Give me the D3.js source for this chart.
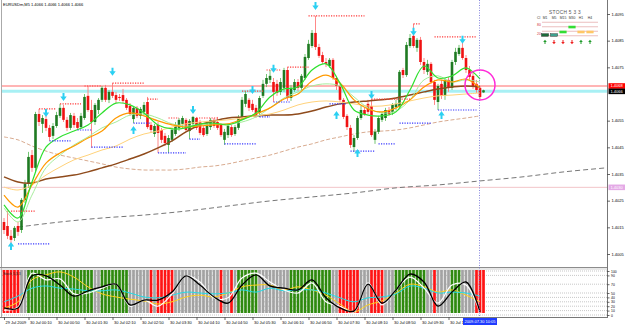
<!DOCTYPE html>
<html>
<head>
<meta charset="utf-8">
<script src="https://cdn.jsdelivr.net/npm/d3@7"></script>
<style>
  html, body { margin: 0; padding: 0; background: #fff; }
  svg { display: block; font-family: "Liberation Sans", Arial, sans-serif; }
</style>
</head>
<body>
<svg id="chart" width="625" height="327"></svg>
<script>
// ---------------- data ----------------
const symbolTitle = 'EURUSDm,M5  1.4066 1.4066 1.4066 1.4066'

const open = [1.40170,1.40155,1.40118,1.40110,1.40155,1.40140,1.40253,1.40313,1.40421,1.40373,
  1.40575,1.40538,1.40556,1.40523,1.40493,1.40530,1.40568,1.40598,1.40553,1.40523,
  1.40568,1.40545,1.40526,1.40560,1.40643,1.40590,1.40545,1.40590,1.40628,1.40673,
  1.40628,1.40658,1.40646,1.40639,1.40646,1.40628,1.40605,1.40556,1.40598,1.40568,
  1.40583,1.40620,1.40534,1.40500,1.40534,1.40515,1.40493,1.40459,1.40478,1.40500,
  1.40523,1.40538,1.40553,1.40511,1.40538,1.40560,1.40545,1.40523,1.40500,1.40526,
  1.40553,1.40545,1.40534,1.40478,1.40496,1.40526,1.40500,1.40523,1.40564,1.40613,
  1.40628,1.40613,1.40598,1.40579,1.40643,1.40688,1.40703,1.40695,1.40688,1.40658,
  1.40673,1.40740,1.40635,1.40665,1.40695,1.40673,1.40710,1.40785,1.40830,1.40879,
  1.40826,1.40796,1.40770,1.40755,1.40778,1.40710,1.40680,1.40628,1.40568,1.40523,
  1.40451,1.40485,1.40560,1.40590,1.40613,1.40605,1.40478,1.40508,1.40553,1.40560,
  1.40590,1.40583,1.40601,1.40605,1.40740,1.40721,1.40830,1.40868,1.40823,1.40853,
  1.40770,1.40733,1.40763,1.40695,1.40620,1.40688,1.40643,1.40703,1.40673,1.40770,
  1.40800,1.40823,1.40785,1.40740,1.40718,1.40688,1.40673,1.40656]

const close = [1.40140,1.40118,1.40103,1.40148,1.40133,1.40253,1.40313,1.40414,1.40373,1.40575,
  1.40545,1.40560,1.40523,1.40489,1.40530,1.40571,1.40598,1.40553,1.40523,1.40571,
  1.40534,1.40523,1.40568,1.40639,1.40590,1.40545,1.40609,1.40628,1.40673,1.40628,
  1.40658,1.40643,1.40628,1.40635,1.40624,1.40598,1.40575,1.40598,1.40568,1.40594,
  1.40609,1.40526,1.40515,1.40530,1.40504,1.40478,1.40466,1.40485,1.40515,1.40534,
  1.40553,1.40560,1.40515,1.40549,1.40564,1.40523,1.40504,1.40496,1.40538,1.40553,
  1.40530,1.40523,1.40496,1.40508,1.40530,1.40496,1.40526,1.40560,1.40628,1.40650,
  1.40598,1.40590,1.40571,1.40635,1.40688,1.40710,1.40718,1.40658,1.40654,1.40695,
  1.40740,1.40635,1.40673,1.40695,1.40673,1.40718,1.40789,1.40838,1.40879,1.40826,
  1.40793,1.40770,1.40763,1.40778,1.40710,1.40680,1.40628,1.40564,1.40526,1.40459,
  1.40485,1.40560,1.40590,1.40575,1.40583,1.40496,1.40508,1.40560,1.40575,1.40590,
  1.40575,1.40609,1.40613,1.40733,1.40721,1.40834,1.40860,1.40830,1.40853,1.40770,
  1.40740,1.40763,1.40695,1.40628,1.40680,1.40643,1.40703,1.40673,1.40770,1.40808,
  1.40823,1.40785,1.40740,1.40714,1.40680,1.40665,1.40639,1.40664]

const high = [1.40185,1.40211,1.40140,1.40155,1.40170,1.40260,1.40328,1.40433,1.40440,1.40583,
  1.40594,1.40571,1.40568,1.40534,1.40541,1.40583,1.40613,1.40609,1.40564,1.40579,
  1.40579,1.40560,1.40579,1.40650,1.40680,1.40628,1.40616,1.40635,1.40680,1.40684,
  1.40665,1.40691,1.40658,1.40650,1.40669,1.40635,1.40616,1.40605,1.40605,1.40601,
  1.40620,1.40639,1.40545,1.40538,1.40545,1.40523,1.40504,1.40496,1.40523,1.40545,
  1.40560,1.40568,1.40560,1.40556,1.40568,1.40564,1.40553,1.40530,1.40549,1.40560,
  1.40560,1.40564,1.40541,1.40519,1.40538,1.40534,1.40534,1.40571,1.40639,1.40661,
  1.40635,1.40628,1.40609,1.40643,1.40703,1.40725,1.40740,1.40710,1.40703,1.40710,
  1.40748,1.40751,1.40684,1.40706,1.40706,1.40725,1.40800,1.40853,1.40890,1.40943,
  1.40838,1.40808,1.40785,1.40785,1.40785,1.40718,1.40688,1.40635,1.40575,1.40534,
  1.40496,1.40568,1.40605,1.40601,1.40628,1.40631,1.40519,1.40568,1.40583,1.40598,
  1.40601,1.40616,1.40628,1.40740,1.40748,1.40845,1.40875,1.40913,1.40860,1.40864,
  1.40785,1.40778,1.40770,1.40703,1.40688,1.40703,1.40710,1.40714,1.40778,1.40823,
  1.40834,1.40853,1.40796,1.40755,1.40729,1.40703,1.40680,1.40666]

const low = [1.40125,1.40106,1.40088,1.40099,1.40118,1.40129,1.40241,1.40298,1.40358,1.40358,
  1.40530,1.40504,1.40511,1.40474,1.40481,1.40523,1.40560,1.40545,1.40511,1.40515,
  1.40523,1.40515,1.40519,1.40553,1.40583,1.40448,1.40534,1.40575,1.40620,1.40620,
  1.40616,1.40635,1.40616,1.40624,1.40616,1.40590,1.40568,1.40541,1.40560,1.40556,
  1.40571,1.40519,1.40504,1.40489,1.40429,1.40466,1.40455,1.40429,1.40470,1.40493,
  1.40511,1.40523,1.40508,1.40481,1.40526,1.40515,1.40496,1.40489,1.40493,1.40515,
  1.40523,1.40515,1.40489,1.40459,1.40485,1.40489,1.40493,1.40515,1.40556,1.40601,
  1.40586,1.40583,1.40560,1.40564,1.40635,1.40676,1.40691,1.40620,1.40643,1.40646,
  1.40658,1.40624,1.40624,1.40658,1.40661,1.40665,1.40703,1.40778,1.40823,1.40815,
  1.40785,1.40763,1.40751,1.40748,1.40703,1.40665,1.40620,1.40556,1.40515,1.40448,
  1.40433,1.40478,1.40553,1.40568,1.40575,1.40489,1.40463,1.40500,1.40545,1.40549,
  1.40568,1.40571,1.40590,1.40598,1.40710,1.40714,1.40823,1.40823,1.40808,1.40759,
  1.40725,1.40721,1.40688,1.40609,1.40590,1.40631,1.40628,1.40658,1.40665,1.40759,
  1.40793,1.40778,1.40729,1.40703,1.40669,1.40654,1.40631,1.40654]

// moving averages, read every 4th bar (bars 0, 4, ... 136)
const maStep = 4
const maFast = [1.40234,1.40185,1.40320,1.40451,1.40489,1.40511,1.40534,1.40579,1.40616,1.40609,
  1.40579,1.40534,1.40519,1.40523,1.40538,1.40541,1.40534,1.40553,1.40579,1.40639,
  1.40669,1.40676,1.40740,1.40763,1.40691,1.40590,1.40571,1.40568,1.40583,1.40665,
  1.40755,1.40710,1.40718,1.40748,1.40706]
const maLight = [1.40223,1.40170,1.40271,1.40373,1.40421,1.40459,1.40489,1.40523,1.40545,1.40571,
  1.40575,1.40560,1.40538,1.40530,1.40534,1.40538,1.40538,1.40545,1.40564,1.40598,
  1.40635,1.40658,1.40680,1.40688,1.40680,1.40639,1.40598,1.40579,1.40586,1.40628,
  1.40703,1.40718,1.40695,1.40703,1.40695]
const maOrange = [1.40271,1.40226,1.40309,1.40391,1.40429,1.40455,1.40485,1.40511,1.40560,1.40579,
  1.40568,1.40549,1.40534,1.40526,1.40530,1.40534,1.40538,1.40556,1.40575,1.40598,
  1.40631,1.40650,1.40699,1.40721,1.40691,1.40628,1.40594,1.40583,1.40598,1.40628,
  1.40676,1.40703,1.40695,1.40706,1.40673]
const maPeach = [1.40301,1.40290,1.40309,1.40346,1.40376,1.40403,1.40421,1.40440,1.40455,1.40481,
  1.40500,1.40511,1.40526,1.40538,1.40545,1.40549,1.40553,1.40560,1.40568,1.40575,
  1.40590,1.40609,1.40620,1.40624,1.40620,1.40613,1.40605,1.40605,1.40613,1.40624,
  1.40635,1.40643,1.40646,1.40650,1.40654]
const maBrown = [1.40339,1.40320,1.40316,1.40331,1.40339,1.40346,1.40358,1.40373,1.40388,1.40406,
  1.40425,1.40448,1.40474,1.40508,1.40534,1.40549,1.40560,1.40564,1.40568,1.40571,
  1.40571,1.40575,1.40586,1.40601,1.40613,1.40620,1.40624,1.40628,1.40635,1.40646,
  1.40658,1.40669,1.40676,1.40680,1.40676]
const maBeige = [1.40489,1.40478,1.40455,1.40436,1.40421,1.40410,1.40399,1.40388,1.40376,1.40369,
  1.40365,1.40365,1.40365,1.40369,1.40376,1.40380,1.40388,1.40399,1.40410,1.40421,
  1.40436,1.40451,1.40463,1.40478,1.40489,1.40500,1.40508,1.40511,1.40515,1.40523,
  1.40534,1.40545,1.40553,1.40560,1.40568]
// long shifted average, runs past the last bar
const maGrayIdx = [4,16,28,40,52,64,76,88,100,112,124,136,148,160,172]
const maGray = [1.40151,1.40170,1.40185,1.40196,1.40211,1.40230,1.40249,1.40264,1.40279,1.40298,
  1.40309,1.40324,1.40339,1.40358,1.40373]

// fractal levels: [first bar, last bar, price]
const resLevels = [[2,9,1.40211],[10,15,1.40594],[16,22,1.40613],[23,28,1.40680],[31,40,1.40691],
  [41,44,1.40631],[47,50,1.40560],[55,61,1.40560],[68,74,1.40661],[75,79,1.40740],
  [81,87,1.40751],[87,103,1.40943],[105,116,1.40631],[117,119,1.40913],[123,135,1.40864]]
const supLevels = [[4,13,1.40088],[13,19,1.40474],[21,25,1.40515],[25,34,1.40451],[37,42,1.40541],
  [44,52,1.40429],[53,56,1.40481],[63,72,1.40463],[73,76,1.40564],[77,82,1.40620],
  [93,98,1.40613],[99,106,1.40436],[107,112,1.40463],[113,122,1.40541],[124,135,1.40590]]

// signal arrows: [bar, price]
const downArrows = [[12,1.40579],[17,1.40639],[31,1.40733],[54,1.40590],[71,1.40665],
  [77,1.40745],[89,1.40980],[105,1.40646],[117,1.40883],[131,1.40853]]
const upArrows = [[2,1.40080],[37,1.40515],[95,1.40571],[101,1.40429],[125,1.40571]]

const askPrice = 1.4068
const bidPrice = 1.4066
const markPrice = 1.4030
const markLabel = '1.4030'
const cursorBar = 136
const cursorLabel = '2009.07.30 10:05'
const circlePrice = 1.40684

const priceTicks = [1.4095, 1.4085, 1.4075, 1.4055, 1.4045, 1.4035, 1.4025, 1.4015, 1.4005]
const timeTickIdx = [0,7,15,23,31,39,47,55,63,71,79,87,95,103,111,119,127]
const timeTicks = ['29 Jul 2009','30 Jul 00:10','30 Jul 00:50','30 Jul 01:30','30 Jul 02:10',
  '30 Jul 02:50','30 Jul 03:30','30 Jul 04:10','30 Jul 04:50','30 Jul 05:30','30 Jul 06:10',
  '30 Jul 06:50','30 Jul 07:30','30 Jul 08:10','30 Jul 08:50','30 Jul 09:30','30 Jul 10:10']

// sub window: state per bar (g = up, r = down, k = flat) as runs
const stateRuns = [['r',5],['k',2],['g',19],['k',2],['g',8],['k',6],['r',1],['k',1],['r',5],['k',13],
  ['r',1],['k',2],['r',1],['k',1],['g',6],['k',9],['g',12],['k',2],['r',6],['k',3],['r',4],
  ['k',3],['g',9],['k',2],['r',1],['k',4],['g',3],['k',4],['r',3]]
const stBlack = [16,16,89,89,68,43,55,64,70,23,34,34,52,89,68,41,27,68,91,66,61,57,80,39,16,9,70,27,57,93,75,20,52,75,7]
const stWhite = [11,18,95,80,82,48,50,61,70,20,34,20,48,89,75,39,39,84,95,75,57,50,73,30,20,7,73,23,57,86,61,27,68,68,5]
const stCyan = [30,43,61,66,61,59,55,55,57,50,41,39,45,52,50,48,50,57,52,61,55,57,57,50,39,30,39,41,48,66,61,50,52,50,43]
const stYellow = [16,30,80,91,98,86,64,48,41,36,32,25,30,41,45,41,50,64,68,68,57,64,57,45,25,7,23,32,50,70,64,52,57,45,30]
const subLevels = [100, 90, 70, 50, 40, 30, 20, 10, 0]
const subName = 'Stoch 5,3,3'

// multi timeframe stoch panel
const panelTitle = 'STOCH  5 3 3'
const tfNames = ['M1', 'M5', 'M15', 'M30', 'H1', 'H4']
const tfStoch = [10, 10, 30, 63, 30, 30]
const tfDir = [1, -1, -1, -1, 1, 1]
const panelGrid = [95, 65, 35, 5]
const panelMarks = [80, 20]

// ---------------- drawing ----------------
const tfColors = ['#1d6b3a', '#3fa08e', '#33dd33', '#33dd33', '#ffc766', '#ffc766']
const stateColors = { g: '#2f8a0f', r: '#ff1414', k: '#a3a3a3' }

const svg = d3.select('#chart')
const axisX = 607.5
const mainBottom = 266.5
const subTop = 270
const subBottom = 313
const frameBottom = 317

const x = d3.scaleLinear().domain([0, 137]).range([4, 483.5])
const y = d3.scaleLinear().domain([1.4005, 1.4095]).range([254, 14])
const yi = d3.scaleLinear().domain([0, 100]).range([315, 271])

const bars = d3.range(open.length).map(i => ({ i: i, o: open[i], h: high[i], l: low[i], c: close[i] }))
const maIdx = d3.range(0, 137, maStep)

svg.append('defs').append('clipPath').attr('id', 'main-clip')
  .append('rect').attr('x', 2).attr('y', 1).attr('width', axisX - 2).attr('height', mainBottom - 1)

const main = svg.append('g').attr('clip-path', 'url(#main-clip)')

/**
 * Draws one smooth series read at the given bar indices.
 */
function drawSeries (g, idx, vals, scaleY, color, width, dash) {
  const line = d3.line()
    .x(d => x(d[0]))
    .y(d => scaleY(d[1]))
    .curve(d3.curveCatmullRom.alpha(0.5))
  g.append('path')
    .datum(idx.map((k, j) => [k, vals[j]]))
    .attr('d', line)
    .attr('fill', 'none')
    .attr('stroke', color)
    .attr('stroke-width', width)
    .attr('stroke-dasharray', dash || null)
    .attr('stroke-linejoin', 'round')
}

// horizontal price lines
main.append('line').attr('x1', 0).attr('x2', axisX)
  .attr('y1', y(markPrice)).attr('y2', y(markPrice))
  .attr('stroke', '#f2c4c8').attr('stroke-width', 1)
main.append('line').attr('x1', 0).attr('x2', axisX)
  .attr('y1', y(bidPrice)).attr('y2', y(bidPrice))
  .attr('stroke', '#a8f0f4').attr('stroke-width', 3)
main.append('line').attr('x1', 0).attr('x2', axisX)
  .attr('y1', y(askPrice)).attr('y2', y(askPrice))
  .attr('stroke', '#ff6a6a').attr('stroke-width', 1)

// slow averages behind the candles
drawSeries(main, maGrayIdx, maGray, y, '#777', 1, '5,3')
drawSeries(main, maIdx, maBeige, y, '#d8ab90', 1, '4,2')

// candles
const gC = main.append('g')
gC.selectAll('line')
  .data(bars)
  .enter()
  .append('line')
  .attr('x1', d => x(d.i)).attr('x2', d => x(d.i))
  .attr('y1', d => y(d.h)).attr('y2', d => y(d.l))
  .attr('stroke', d => d.c >= d.o ? '#63c063' : '#ff7a7a')
  .attr('stroke-width', 0.9)
gC.selectAll('rect')
  .data(bars)
  .enter()
  .append('rect')
  .attr('x', d => x(d.i) - 1.3)
  .attr('width', 2.6)
  .attr('y', d => y(Math.max(d.o, d.c)))
  .attr('height', d => Math.max(0.8, Math.abs(y(d.o) - y(d.c))))
  .attr('fill', d => d.c >= d.o ? '#1f7a22' : '#f01212')

// averages on top
drawSeries(main, maIdx, maBrown, y, '#8f4b1c', 1.5)
drawSeries(main, maIdx, maPeach, y, '#ffd27a', 1)
drawSeries(main, maIdx, maLight, y, '#a6ec9c', 1)
drawSeries(main, maIdx, maOrange, y, '#ff9a00', 1.2)
drawSeries(main, maIdx, maFast, y, '#2fe02f', 1.2)

// fractal levels
function drawLevels (levels, color) {
  main.append('g')
    .selectAll('line')
    .data(levels)
    .enter()
    .append('line')
    .attr('x1', d => x(d[0])).attr('x2', d => x(d[1]))
    .attr('y1', d => y(d[2])).attr('y2', d => y(d[2]))
    .attr('stroke', color)
    .attr('stroke-width', 1.2)
    .attr('stroke-dasharray', '1.2,1.3')
}
drawLevels(resLevels, '#ff3b3b')
drawLevels(supLevels, '#3a3aff')

// arrows
function arrowPath (cx, cy, dir) {
  const s = dir // 1 = points down, -1 = points up
  return 'M' + (cx - 1) + ',' + (cy - 4 * s) +
    'L' + (cx + 1) + ',' + (cy - 4 * s) +
    'L' + (cx + 1) + ',' + (cy - 0.5 * s) +
    'L' + (cx + 3.2) + ',' + (cy - 0.5 * s) +
    'L' + cx + ',' + (cy + 4 * s) +
    'L' + (cx - 3.2) + ',' + (cy - 0.5 * s) +
    'L' + (cx - 1) + ',' + (cy - 0.5 * s) + 'Z'
}
main.append('g').selectAll('path')
  .data(downArrows).enter().append('path')
  .attr('d', d => arrowPath(x(d[0]), y(d[1]), 1))
  .attr('fill', '#2bd0f2')
main.append('g').selectAll('path')
  .data(upArrows).enter().append('path')
  .attr('d', d => arrowPath(x(d[0]), y(d[1]), -1))
  .attr('fill', '#2bd0f2')

// circle mark
main.append('circle')
  .attr('cx', x(cursorBar)).attr('cy', y(circlePrice)).attr('r', 15)
  .attr('fill', 'none').attr('stroke', '#ff2ad8').attr('stroke-width', 1.5)

// title
svg.append('text').attr('x', 3).attr('y', 6)
  .attr('font-size', 4).attr('fill', '#000')
  .text(symbolTitle)

// stoch panel
const col = d3.scalePoint().domain(tfNames).range([545, 590])
const sy = d3.scaleLinear().domain([0, 100]).range([36.5, 21.5])
const panel = svg.append('g')
panel.append('text').attr('x', 565).attr('y', 14).attr('text-anchor', 'middle')
  .attr('font-size', 4.8).attr('fill', '#555').attr('letter-spacing', 0.3).text(panelTitle)
panel.append('text').attr('x', 537).attr('y', 18.5).attr('font-size', 3.4).attr('fill', '#333').text('Cl')
panel.selectAll('text.tf').data(tfNames).enter().append('text')
  .attr('class', 'tf')
  .attr('x', d => col(d)).attr('y', 18.5).attr('text-anchor', 'middle')
  .attr('font-size', 3.4).attr('fill', '#333').text(d => d)
panel.selectAll('line.grid').data(panelGrid).enter().append('line')
  .attr('class', 'grid')
  .attr('x1', 542).attr('x2', 598)
  .attr('y1', d => sy(d)).attr('y2', d => sy(d))
  .attr('stroke', '#e2a4a4').attr('stroke-width', 0.7)
panel.selectAll('text.mk').data(panelMarks).enter().append('text')
  .attr('class', 'mk')
  .attr('x', 537).attr('y', d => sy(d) + 1.3)
  .attr('font-size', 3.4).attr('fill', '#d03030').text(d => d)
panel.selectAll('rect').data(tfNames).enter().append('rect')
  .attr('x', d => col(d) - 3.6).attr('width', 7.2)
  .attr('y', (d, i) => sy(tfStoch[i]) - 1.3).attr('height', 2.6)
  .attr('fill', (d, i) => tfColors[i])
  .attr('stroke', (d, i) => i < 2 ? '#222' : 'none').attr('stroke-width', 0.4)
panel.selectAll('path').data(tfNames).enter().append('path')
  .attr('d', (d, i) => {
    const cx = col(d)
    const cy = 42
    const s = -tfDir[i]
    return 'M' + (cx - 0.5) + ',' + (cy - 2 * s) + 'L' + (cx + 0.5) + ',' + (cy - 2 * s) +
      'L' + (cx + 0.5) + ',' + cy + 'L' + (cx + 1.8) + ',' + cy + 'L' + cx + ',' + (cy + 2.2 * s) +
      'L' + (cx - 1.8) + ',' + cy + 'L' + (cx - 0.5) + ',' + cy + 'Z'
  })
  .attr('fill', (d, i) => tfDir[i] > 0 ? '#1f9a2a' : '#ee2020')

// ---------------- sub window ----------------
const sub = svg.append('g')
sub.selectAll('line.lvl').data(subLevels).enter().append('line')
  .attr('class', 'lvl')
  .attr('x1', 2).attr('x2', axisX)
  .attr('y1', d => yi(d)).attr('y2', d => yi(d))
  .attr('stroke', '#b0b0b0').attr('stroke-width', 0.7).attr('stroke-dasharray', '1,1')

const states = []
stateRuns.forEach(r => { for (let k = 0; k < r[1]; k++) states.push(r[0]) })
sub.append('g').selectAll('rect').data(states).enter().append('rect')
  .attr('x', (d, i) => x(i) - 1.35).attr('width', 2.7)
  .attr('y', subTop).attr('height', subBottom - subTop)
  .attr('fill', d => stateColors[d])

drawSeries(sub, maIdx, stYellow, yi, '#ffd21a', 1)
drawSeries(sub, maIdx, stCyan, yi, '#22dde8', 1)
drawSeries(sub, maIdx, stWhite, yi, '#ffffff', 1.2)
drawSeries(sub, maIdx, stBlack, yi, '#000000', 1.3)

sub.append('text').attr('x', 3).attr('y', 274.5)
  .attr('font-size', 3.5).attr('fill', '#222').text(subName)

// ---------------- frame and axes ----------------
svg.append('line').attr('x1', 1.5).attr('x2', 1.5).attr('y1', 0).attr('y2', frameBottom)
  .attr('stroke', '#aaa')
svg.append('line').attr('x1', 0).attr('x2', axisX).attr('y1', 267.5).attr('y2', 267.5)
  .attr('stroke', '#8c8c8c')
svg.append('line').attr('x1', 0).attr('x2', axisX).attr('y1', 269).attr('y2', 269)
  .attr('stroke', '#cfcfcf')
svg.append('line').attr('x1', 0).attr('x2', axisX).attr('y1', frameBottom + 0.5).attr('y2', frameBottom + 0.5)
  .attr('stroke', '#777')
svg.append('line').attr('x1', axisX).attr('x2', axisX).attr('y1', 0).attr('y2', frameBottom + 1)
  .attr('stroke', '#777')

// cursor line
svg.append('line')
  .attr('x1', x(cursorBar) - 0.5).attr('x2', x(cursorBar) - 0.5)
  .attr('y1', 0).attr('y2', frameBottom)
  .attr('stroke', '#6b6bd6').attr('stroke-width', 0.8).attr('stroke-dasharray', '1,1.5')

function styleAxis (g) {
  g.select('.domain').remove()
  g.attr('font-size', 4).attr('font-family', '"Liberation Sans", Arial, sans-serif')
  g.selectAll('.tick line').attr('stroke', '#000').attr('stroke-width', 0.6)
  g.selectAll('.tick text').attr('fill', '#000')
}

svg.append('g')
  .attr('transform', 'translate(' + axisX + ',0)')
  .call(d3.axisRight(y).tickValues(priceTicks).tickSize(2.5).tickPadding(1.5).tickFormat(d3.format('.4f')))
  .call(styleAxis)

svg.append('g')
  .attr('transform', 'translate(' + axisX + ',0)')
  .call(d3.axisRight(yi).tickValues(subLevels).tickSize(2).tickPadding(1.5).tickFormat(d => d))
  .call(styleAxis)
  .attr('font-size', 3.4)

const xAxis = svg.append('g')
  .attr('transform', 'translate(0,' + (frameBottom + 0.5) + ')')
  .call(d3.axisBottom(x).tickValues(timeTickIdx).tickSize(2.5).tickPadding(1.2)
    .tickFormat((d, i) => timeTicks[i]))
  .call(styleAxis)
xAxis.selectAll('.tick text').attr('text-anchor', 'start').attr('x', 1)

// price boxes
function priceBox (price, label, fill, color) {
  const g = svg.append('g')
  g.append('rect').attr('x', axisX + 1).attr('y', y(price) - 2.8)
    .attr('width', 625 - axisX - 1).attr('height', 5.6).attr('fill', fill)
  g.append('text').attr('x', axisX + 3).attr('y', y(price) + 1.4)
    .attr('font-size', 4).attr('fill', color).text(label)
}
priceBox(markPrice, markLabel, '#e4a9e6', '#fff')
priceBox(askPrice, d3.format('.4f')(askPrice), '#ff0000', '#fff')
priceBox(bidPrice, d3.format('.4f')(bidPrice), '#000000', '#fff')

// cursor time box
svg.append('rect')
  .attr('x', x(cursorBar) - 17).attr('y', frameBottom + 1)
  .attr('width', 34).attr('height', 7).attr('fill', '#1f3cff')
svg.append('text')
  .attr('x', x(cursorBar)).attr('y', frameBottom + 6)
  .attr('text-anchor', 'middle').attr('font-size', 4).attr('fill', '#fff')
  .text(cursorLabel)
</script>
</body>
</html>
